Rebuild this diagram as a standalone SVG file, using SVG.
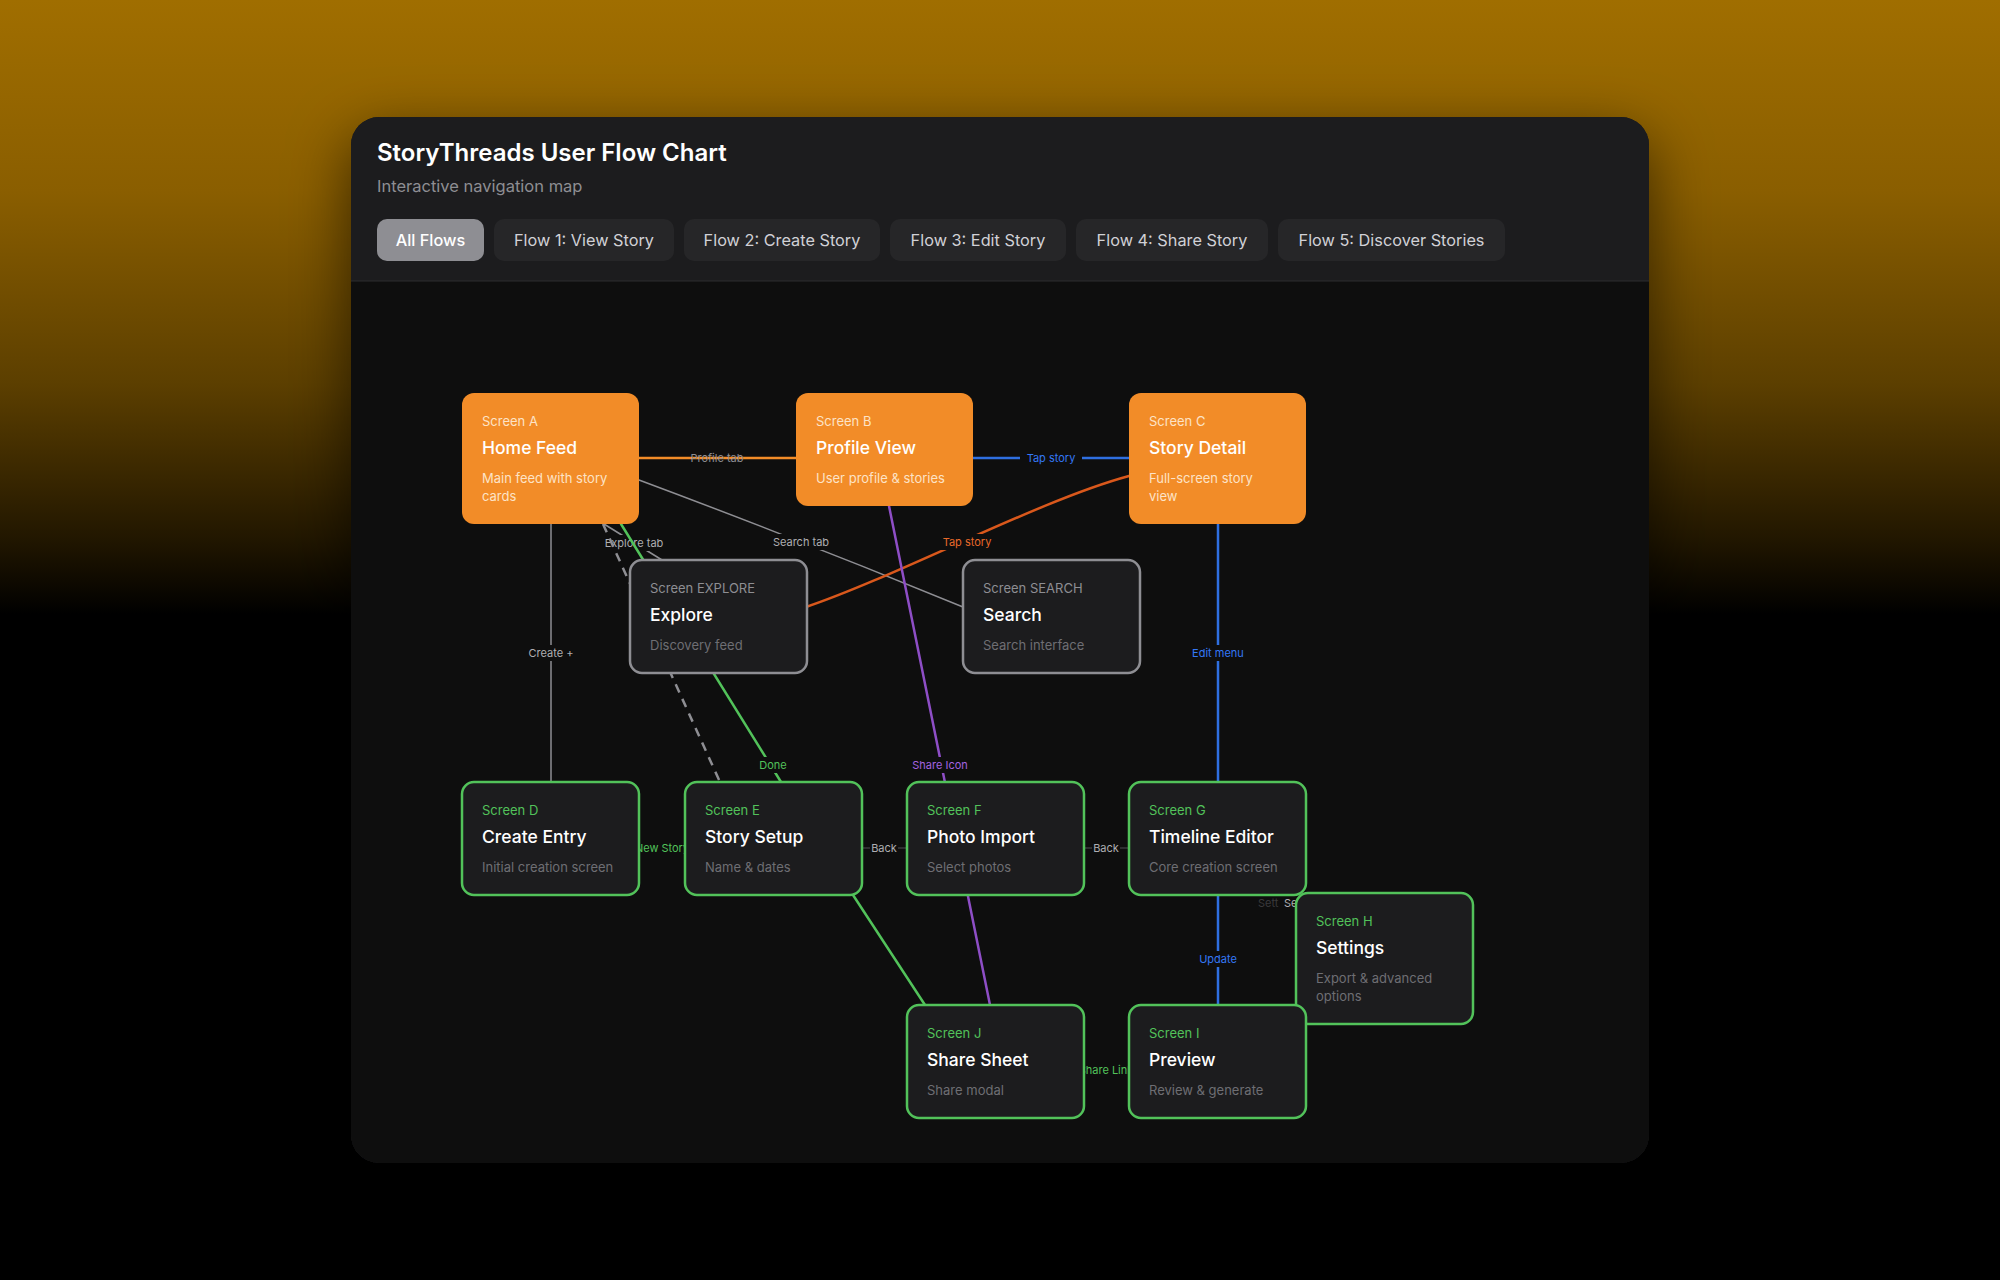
<svg xmlns="http://www.w3.org/2000/svg" width="2000" height="1280" viewBox="0 0 2000 1280">
<defs>
<linearGradient id="bg" x1="0" y1="0" x2="0" y2="1">
<stop offset="0" stop-color="#a06e00"/>
<stop offset="0.15" stop-color="#8a5e00"/>
<stop offset="0.3" stop-color="#5c3f00"/>
<stop offset="0.42" stop-color="#221700"/>
<stop offset="0.48" stop-color="#000000"/>
<stop offset="1" stop-color="#000000"/>
</linearGradient>
<filter id="shadow" x="-20%" y="-20%" width="140%" height="140%">
<feDropShadow dx="0" dy="20" stdDeviation="30" flood-color="#000" flood-opacity="0.6"/>
</filter>
<clipPath id="cardClip"><rect x="351" y="117" width="1298" height="1046" rx="28"/></clipPath>
<style>
text{font-family:Inter,"Liberation Sans",sans-serif}
.title{font-size:24px;font-weight:600;fill:#fff}
.sub{font-size:16.5px;fill:#8e8e93}
.tab{fill:#262628}
.tabOn{fill:#8e8e93}
.tabt{font-size:16.3px;fill:#d1d1d6;text-anchor:middle}
.tabtOn{font-size:16.3px;fill:#fff;font-weight:500;text-anchor:middle}
.nOr{fill:#f28c28}
.nGr{fill:#1c1c1e;stroke:#52c25a;stroke-width:2.5}
.nGy{fill:#1c1c1e;stroke:#8e8e93;stroke-width:2.5}
.sc{font-size:13px}
.nm{font-size:17.5px;font-weight:500;fill:#fff}
.ds{font-size:13px}
.oSc,.oDs{fill:#fde3c6}
.gSc{fill:#52c25a}
.ySc{fill:#8e8e93}
.dDs{fill:#6e6e73}
.lbl{font-size:11px;text-anchor:middle}
.lb{fill:#0e0e0e}
.e{fill:none;stroke-linecap:round}
</style>
</defs>
<rect x="0" y="0" width="2000" height="1280" fill="url(#bg)"/>
<rect x="351" y="117" width="1298" height="1046" rx="28" fill="#1c1c1e" filter="url(#shadow)"/>
<g clip-path="url(#cardClip)">
<rect x="351" y="117" width="1298" height="164" fill="#1c1c1e"/>
<rect x="351" y="281" width="1298" height="882" fill="#0e0e0e"/>
<line x1="351" y1="281" x2="1649" y2="281" stroke="#2c2c2e" stroke-width="1"/>
</g>
<g id="header">
<text class="title" x="377" y="161">StoryThreads User Flow Chart</text>
<text class="sub" x="377" y="192">Interactive navigation map</text>
</g>
<g id="tabs">
<rect class="tabOn" x="377" y="219" width="107" height="42" rx="10"/>
<text class="tabtOn" x="430.5" y="245.5">All Flows</text>
<rect class="tab" x="494" y="219" width="180" height="42" rx="10"/>
<text class="tabt" x="584" y="245.5">Flow 1: View Story</text>
<rect class="tab" x="684" y="219" width="196" height="42" rx="10"/>
<text class="tabt" x="782" y="245.5">Flow 2: Create Story</text>
<rect class="tab" x="890" y="219" width="176" height="42" rx="10"/>
<text class="tabt" x="978" y="245.5">Flow 3: Edit Story</text>
<rect class="tab" x="1076" y="219" width="192" height="42" rx="10"/>
<text class="tabt" x="1172" y="245.5">Flow 4: Share Story</text>
<rect class="tab" x="1278" y="219" width="227" height="42" rx="10"/>
<text class="tabt" x="1391.5" y="245.5">Flow 5: Discover Stories</text>
</g>
<g id="connectors">
<line class="e" x1="639" y1="458" x2="796" y2="458" stroke="#f28c28" stroke-width="2.5"/>
<text class="lbl" x="717" y="462" fill="#8e8e93">Profile tab</text>
<line class="e" x1="973" y1="458" x2="1129" y2="458" stroke="#2f6fe0" stroke-width="2.5"/>
<rect class="lb" x="1020" y="450" width="62" height="16"/>
<text class="lbl" x="1051" y="462" fill="#3478f6">Tap story</text>
<path class="e" d="M639,480 Q800,540 963,607" stroke="#8e8e93" stroke-width="1.5"/>
<rect class="lb" x="770" y="534" width="62" height="16"/>
<text class="lbl" x="801" y="546" fill="#aeaeb2">Search tab</text>
<path class="e" d="M1129,476 C1040,500 900,575 806,607" stroke="#d9581c" stroke-width="2.5"/>
<rect class="lb" x="937" y="534" width="60" height="16"/>
<text class="lbl" x="967" y="546" fill="#e8692a">Tap story</text>
<line class="e" x1="604" y1="524" x2="662" y2="560" stroke="#8e8e93" stroke-width="1.5"/>
<rect class="lb" x="603" y="535" width="62" height="16"/>
<text class="lbl" x="634" y="547" fill="#aeaeb2">Explore tab</text>
<line x1="603" y1="524" x2="720" y2="782" stroke="#8e8e93" stroke-width="2.5" stroke-dasharray="9 7"/>
<line class="e" x1="621" y1="524" x2="781" y2="782" stroke="#52c25a" stroke-width="2.5"/>
<rect class="lb" x="757" y="757" width="32" height="16"/>
<text class="lbl" x="773" y="769" fill="#52c25a">Done</text>
<line class="e" x1="889" y1="506" x2="990" y2="1005" stroke="#8e4ec6" stroke-width="2.5"/>
<rect class="lb" x="910" y="757" width="60" height="16"/>
<text class="lbl" x="940" y="769" fill="#a463e0">Share Icon</text>
<line class="e" x1="551" y1="524" x2="551" y2="782" stroke="#8e8e93" stroke-width="1.5"/>
<rect class="lb" x="526" y="645" width="50" height="16"/>
<text class="lbl" x="551" y="657" fill="#aeaeb2">Create +</text>
<line class="e" x1="1218" y1="524" x2="1218" y2="782" stroke="#2f6fe0" stroke-width="2.5"/>
<rect class="lb" x="1188" y="645" width="60" height="16"/>
<text class="lbl" x="1218" y="657" fill="#3478f6">Edit menu</text>
<line class="e" x1="853" y1="895" x2="925" y2="1005" stroke="#52c25a" stroke-width="2.5"/>
<line x1="639" y1="848" x2="685" y2="848" stroke="#52c25a" stroke-width="1.5"/>
<rect class="lb" x="636" y="840" width="52" height="16"/>
<text class="lbl" x="662" y="852" fill="#52c25a">New Story</text>
<line x1="861" y1="848" x2="907" y2="848" stroke="#3a3a3c" stroke-width="1.5"/>
<rect class="lb" x="870" y="840" width="28" height="16"/>
<text class="lbl" x="884" y="852" fill="#aeaeb2">Back</text>
<line x1="1083" y1="848" x2="1129" y2="848" stroke="#3a3a3c" stroke-width="1.5"/>
<rect class="lb" x="1092" y="840" width="28" height="16"/>
<text class="lbl" x="1106" y="852" fill="#aeaeb2">Back</text>
<text x="1258" y="907" font-size="11" fill="#3a3a3c">Sett</text>
<text x="1284" y="907" font-size="11" fill="#aeaeb2">Settings</text>
<line class="e" x1="1218" y1="895" x2="1218" y2="1005" stroke="#2f6fe0" stroke-width="2.5"/>
<rect class="lb" x="1194" y="951" width="48" height="16"/>
<text class="lbl" x="1218" y="963" fill="#3478f6">Update</text>
<rect class="lb" x="1076" y="1062" width="60" height="16"/>
<text class="lbl" x="1106" y="1074" fill="#52c25a">Share Link</text>
</g>
<g id="node-A">
<rect class="nOr" x="462" y="393" width="177" height="131" rx="12"/>
<text class="sc oSc" x="482" y="426">Screen A</text>
<text class="nm" x="482" y="454">Home Feed</text>
<text class="ds oDs" x="482" y="483">Main feed with story</text>
<text class="ds oDs" x="482" y="501">cards</text>
</g>
<g id="node-B">
<rect class="nOr" x="796" y="393" width="177" height="113" rx="12"/>
<text class="sc oSc" x="816" y="426">Screen B</text>
<text class="nm" x="816" y="454">Profile View</text>
<text class="ds oDs" x="816" y="483">User profile &amp; stories</text>
</g>
<g id="node-C">
<rect class="nOr" x="1129" y="393" width="177" height="131" rx="12"/>
<text class="sc oSc" x="1149" y="426">Screen C</text>
<text class="nm" x="1149" y="454">Story Detail</text>
<text class="ds oDs" x="1149" y="483">Full-screen story</text>
<text class="ds oDs" x="1149" y="501">view</text>
</g>
<g id="node-EXPLORE">
<rect class="nGy" x="630" y="560" width="177" height="113" rx="12"/>
<text class="sc ySc" x="650" y="593">Screen EXPLORE</text>
<text class="nm" x="650" y="621">Explore</text>
<text class="ds dDs" x="650" y="650">Discovery feed</text>
</g>
<g id="node-SEARCH">
<rect class="nGy" x="963" y="560" width="177" height="113" rx="12"/>
<text class="sc ySc" x="983" y="593">Screen SEARCH</text>
<text class="nm" x="983" y="621">Search</text>
<text class="ds dDs" x="983" y="650">Search interface</text>
</g>
<g id="node-D">
<rect class="nGr" x="462" y="782" width="177" height="113" rx="12"/>
<text class="sc gSc" x="482" y="815">Screen D</text>
<text class="nm" x="482" y="843">Create Entry</text>
<text class="ds dDs" x="482" y="872">Initial creation screen</text>
</g>
<g id="node-E">
<rect class="nGr" x="685" y="782" width="177" height="113" rx="12"/>
<text class="sc gSc" x="705" y="815">Screen E</text>
<text class="nm" x="705" y="843">Story Setup</text>
<text class="ds dDs" x="705" y="872">Name &amp; dates</text>
</g>
<g id="node-F">
<rect class="nGr" x="907" y="782" width="177" height="113" rx="12"/>
<text class="sc gSc" x="927" y="815">Screen F</text>
<text class="nm" x="927" y="843">Photo Import</text>
<text class="ds dDs" x="927" y="872">Select photos</text>
</g>
<g id="node-G">
<rect class="nGr" x="1129" y="782" width="177" height="113" rx="12"/>
<text class="sc gSc" x="1149" y="815">Screen G</text>
<text class="nm" x="1149" y="843">Timeline Editor</text>
<text class="ds dDs" x="1149" y="872">Core creation screen</text>
</g>
<g id="node-H">
<rect class="nGr" x="1296" y="893" width="177" height="131" rx="12"/>
<text class="sc gSc" x="1316" y="926">Screen H</text>
<text class="nm" x="1316" y="954">Settings</text>
<text class="ds dDs" x="1316" y="983">Export &amp; advanced</text>
<text class="ds dDs" x="1316" y="1001">options</text>
</g>
<g id="node-J">
<rect class="nGr" x="907" y="1005" width="177" height="113" rx="12"/>
<text class="sc gSc" x="927" y="1038">Screen J</text>
<text class="nm" x="927" y="1066">Share Sheet</text>
<text class="ds dDs" x="927" y="1095">Share modal</text>
</g>
<g id="node-I">
<rect class="nGr" x="1129" y="1005" width="177" height="113" rx="12"/>
<text class="sc gSc" x="1149" y="1038">Screen I</text>
<text class="nm" x="1149" y="1066">Preview</text>
<text class="ds dDs" x="1149" y="1095">Review &amp; generate</text>
</g>
</svg>
